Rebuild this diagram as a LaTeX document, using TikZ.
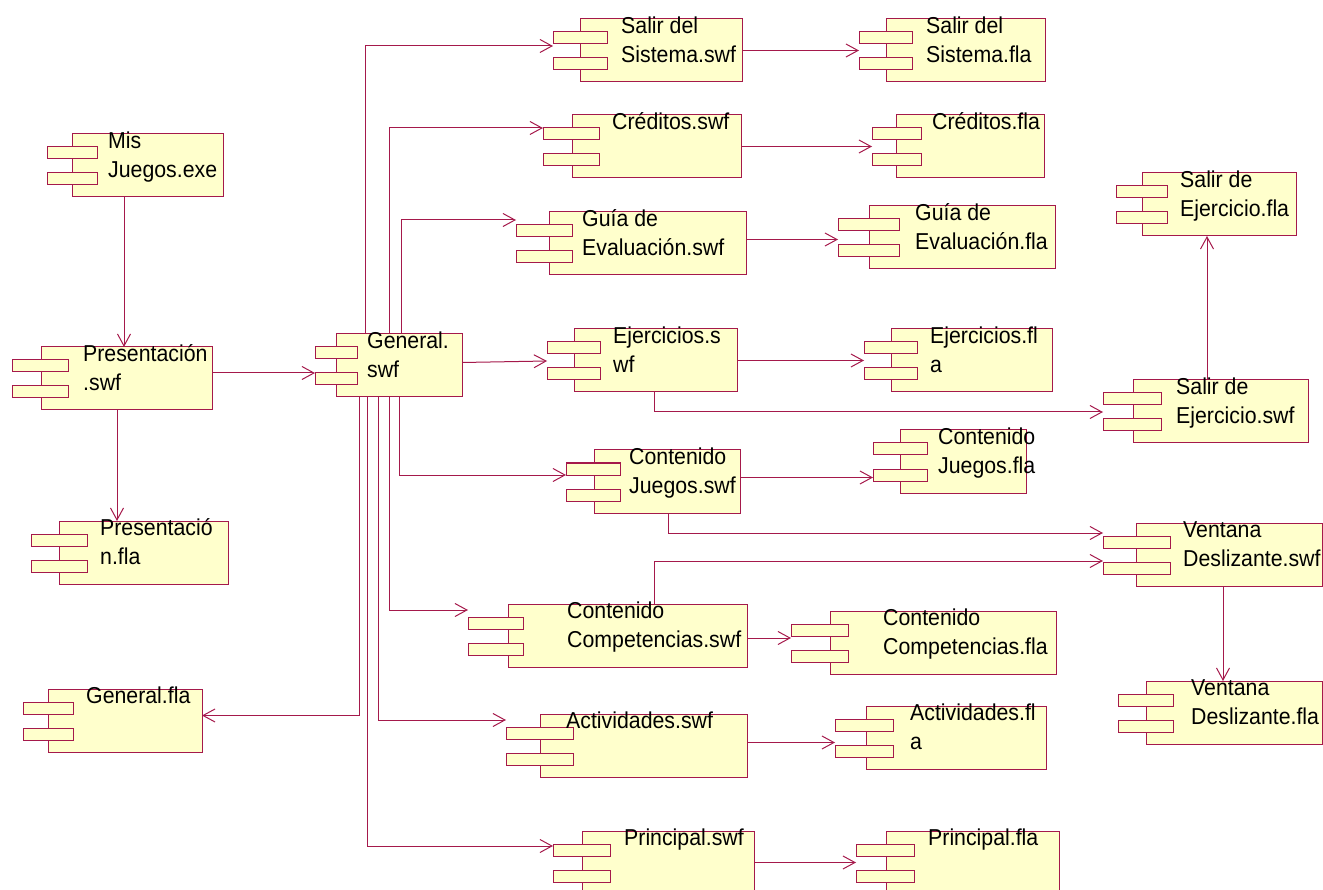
\documentclass[tikz,border=0pt]{standalone}
\usepackage{fontspec}
\setmainfont{Liberation Sans}[FakeStretch=0.926]
\usetikzlibrary{arrows.meta}
\definecolor{rline}{RGB}{165,25,75}
\definecolor{cfill}{RGB}{255,255,204}
\tikzset{
  body/.style={draw=rline, fill=cfill, line width=1pt, inner sep=0pt, outer sep=0pt, minimum height=63pt, rectangle},
  cbar/.style={draw=rline, fill=cfill, line width=1pt, inner sep=0pt, outer sep=0pt, minimum height=12pt, rectangle},
  lbl/.style={inner sep=0pt, align=left, font=\fontsize{23}{28.5}\selectfont, anchor=north west},
  conn/.style={draw=rline, line width=1pt, -{Straight Barb[length=12pt,width=13pt]}},
}
% #1 name, #2 x1, #3 y1, #4 width, #5 bar left, #6 bar width, #7 text x, #8 text
\newcommand\comp[8]{%
  \node[body, minimum width=#4pt, anchor=north west] (#1) at (#2,#3) {};
  \node[cbar, minimum width=#6pt, anchor=north west] (#1b1) at (#5,#3+13) {};
  \node[cbar, minimum width=#6pt, anchor=north west] (#1b2) at (#5,#3+39) {};
  \node[lbl] (#1t) at (#7,#3-2.5) {\rule{0pt}{17pt}#8};
}
\begin{document}
\begin{tikzpicture}[x=1pt,y=-1pt]
\useasboundingbox (0,0) rectangle (1323,890);
\comp{misj}{72}{134}{151}{47}{50}{108}{Mis\\Juegos.exe}
\comp{presS}{41}{347}{171}{12}{56}{83}{Presentación\\.swf}
\comp{gen}{336}{334}{126}{315}{42}{367}{General.\\swf}
\comp{presF}{59}{521}{169}{31}{56}{100}{Presentació\\n.fla}
\comp{genF}{48}{689}{154}{23}{50}{86}{General.fla}
\comp{salS}{580}{19}{162}{553}{54}{621}{Salir del\\Sistema.swf}
\comp{salF}{886}{19}{159}{859}{53}{926}{Salir del\\Sistema.fla}
\comp{creS}{572}{115}{169}{543}{56}{612}{Créditos.swf}
\comp{creF}{896}{115}{148}{872}{49}{932}{Créditos.fla}
\comp{guiS}{549}{212}{197}{516}{56}{582}{Guía de\\Evaluación.swf}
\comp{guiF}{869}{206}{186}{838}{61}{915}{Guía de\\Evaluación.fla}
\comp{ejeS}{574}{329}{163}{547}{53}{613}{Ejercicios.s\\wf}
\comp{ejeF}{891}{329}{161}{864}{53}{930}{Ejercicios.fl\\a}
\comp{sejS}{1133}{380}{175}{1103}{58}{1176}{Salir de\\Ejercicio.swf}
\comp{sejF}{1142}{173}{154}{1116}{51}{1180}{Salir de\\Ejercicio.fla}
\comp{cjS}{594}{450}{146}{566}{54}{629}{Contenido\\Juegos.swf}
\comp{cjF}{900}{430}{126}{873}{54}{938}{Contenido\\Juegos.fla}
\comp{vdS}{1136}{523}{186}{1103}{67}{1183}{Ventana\\Deslizante.swf}
\comp{vdF}{1146}{681}{176}{1118}{55}{1191}{Ventana\\Deslizante.fla}
\comp{ccS}{508}{604}{239}{468}{55}{567}{Contenido\\Competencias.swf}
\comp{ccF}{830}{611}{226}{791}{57}{883}{Contenido\\Competencias.fla}
\comp{actS}{540}{714}{207}{506}{67}{566}{Actividades.swf}
\comp{actF}{866}{706}{180}{835}{58}{910}{Actividades.fl\\a}
\comp{priS}{582}{831}{172}{553}{57}{624}{Principal.swf}
\comp{priF}{886}{831}{173}{856}{58}{928}{Principal.fla}
% connectors
\draw[conn] ([xshift=52pt]misj.south west) -- ([xshift=52pt]misj.south west |- presS.north);
\draw[conn] (presS.east |- genb2.north west) -- (genb2.north west);
\draw[conn] ([xshift=76pt]presS.south west) -- ([xshift=76pt]presS.south west |- presF.north);
\draw[conn] ([xshift=29pt]gen.north west) |- ([yshift=-2pt]salSb1.south west);
\draw[conn] ([xshift=53pt]gen.north west) |- (creSb1.north west);
\draw[conn] ([xshift=65pt]gen.north west) |- ([yshift=5pt]guiSb1.north west);
\draw[conn] ([yshift=3pt]gen.east) -- ([yshift=-7pt]ejeSb1.south west);
\draw[conn] ([xshift=63pt]gen.south west) |- (cjSb1.south west);
\draw[conn] ([xshift=53pt]gen.south west) |- ([yshift=7pt]ccSb1.north west);
\draw[conn] ([xshift=42pt]gen.south west) |- ([yshift=7pt]actSb1.north west);
\draw[conn] ([xshift=31pt]gen.south west) |- ([yshift=-2pt]priSb1.north west);
\draw[conn] ([xshift=23pt]gen.south west) |- ([yshift=5pt]genF.east);
\draw[conn] (salS.east) -- (salS.east -| salFb1.west);
\draw[conn] (creS.east) -- (creS.east -| creFb1.west);
\draw[conn] ([yshift=4pt]guiS.east) -- ([yshift=4pt]guiS.east -| guiFb1.west);
\draw[conn] (ejeS.east) -- (ejeS.east -| ejeFb1.west);
\draw[conn] ([xshift=80pt]ejeS.south west) |- ([yshift=-7pt]sejSb1.south west);
\draw[conn] ([xshift=74pt]sejS.north west) -- ([xshift=74pt]sejS.north west |- sejF.south);
\draw[conn] ([yshift=4pt]cjS.east) -- ([yshift=4pt]cjS.east -| cjFb1.west);
\draw[conn] ([xshift=74pt]cjS.south west) |- ([yshift=3pt]vdSb1.north west);
\draw[conn] ([xshift=146pt]ccS.north west) |- ([yshift=1pt]vdSb2.north west);
\draw[conn] ([xshift=87pt]vdS.south west) -- ([xshift=87pt]vdS.south west |- vdF.north);
\draw[conn] ([yshift=-2.5pt]ccS.east) -- ([yshift=-2.5pt]ccS.east -| ccFb1.west);
\draw[conn] ([yshift=3pt]actS.east) -- ([yshift=3pt]actS.east -| actFb1.west);
\draw[conn] (priS.east) -- (priS.east -| priFb1.west);
\end{tikzpicture}
\end{document}
